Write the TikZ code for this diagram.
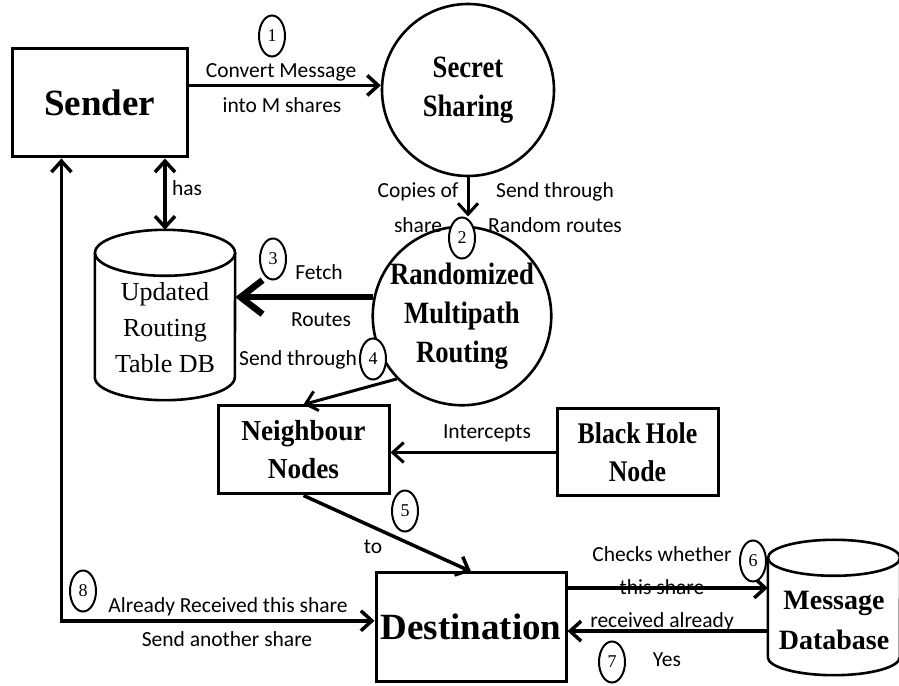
\documentclass[tikz,border=0pt]{standalone}
\usepackage{fontspec}
\setmainfont{Liberation Serif}
\newfontfamily\labfont{Carlito}
\newfontfamily\cserif[FakeStretch=0.86]{Liberation Serif}
\newfontfamily\nserif[FakeStretch=0.94]{Liberation Serif}
\usetikzlibrary{arrows.meta,shapes.geometric,calc}

\tikzset{
  barb/.tip={Straight Barb[length=11pt,width=20pt]},
  bigbarb/.tip={Straight Barb[length=22pt,width=34pt]},
}

\begin{document}
\begin{tikzpicture}[x=1pt,y=1pt,
  box/.style={draw, line width=3pt, rectangle, inner sep=0pt, align=center},
  proc/.style={draw, circle, line width=2.6pt, inner sep=0pt, align=center},
  big/.style={font=\fontsize{37}{40}\selectfont\bfseries},
  mid/.style={font=\cserif\fontsize{31}{39}\selectfont\bfseries},
  dbtext/.style={font=\fontsize{26}{36}\selectfont, align=center, inner sep=0pt},
  lab/.style={font={\labfont\fontsize{21.5}{21.5}\selectfont}, inner sep=0pt},
  num/.style={draw, ellipse, fill=white, line width=2pt, minimum width=26pt,
              minimum height=41pt, inner sep=0pt, font=\fontsize{18}{18}\selectfont},
  flow/.style={line width=3.5pt, -barb},
  both/.style={line width=3.5pt, barb-barb},
  cyl/.style={line width=2.6pt},
]
\useasboundingbox (0,0) rectangle (899,685);
\fill[white] (0,0) rectangle (899,685);

% ---- main blocks ----
\node[box, big, minimum width=175pt, minimum height=108pt] (sender) at (99.5,582) {Sender};
\node[proc, mid, minimum size=172pt] (ss) at (468,595) {Secret\\Sharing};
\node[proc, mid, font=\cserif\fontsize{31}{39}\selectfont\bfseries, minimum size=170pt] (rmr) at (462,369) {Randomized\\Multipath\\Routing};
\node[box, font=\nserif\fontsize{29}{38}\selectfont\bfseries, minimum width=171pt, minimum height=88pt] (nn) at (303.5,235) {Neighbour\\Nodes};
\node[box, mid, font=\cserif\fontsize{30}{38}\selectfont\bfseries, minimum width=161pt, minimum height=87pt] (bh) at (637.5,232.5) {Black\,Hole\\Node};
\node[box, big, minimum width=190pt, minimum height=108pt] (dst) at (471,58) {Destination};

% ---- routing table database (cylinder) ----
\node[rectangle, minimum width=140pt, minimum height=170pt, inner sep=0pt] (rdb) at (165,370) {};
\draw[cyl] ([yshift=-23pt]rdb.north) ellipse [x radius=70, y radius=23];
\draw[cyl] ([yshift=-23pt]rdb.north west) -- ([yshift=23pt]rdb.south west)
  arc[start angle=180, end angle=360, x radius=70, y radius=23]
  -- ([yshift=-23pt]rdb.north east);
\node[dbtext] (rdbt) at (165,357) {Updated\\Routing\\Table DB};

% ---- message database (cylinder) ----
\node[rectangle, minimum width=132pt, minimum height=135pt, inner sep=0pt] (mdb) at (834,77.5) {};
\draw[cyl] ([yshift=-18pt]mdb.north) ellipse [x radius=66, y radius=18];
\draw[cyl] ([yshift=-18pt]mdb.north west) -- ([yshift=18pt]mdb.south west)
  arc[start angle=180, end angle=360, x radius=66, y radius=18]
  -- ([yshift=-18pt]mdb.north east);
\node[dbtext, font=\fontsize{28}{40}\selectfont\bfseries] (mdbt) at (834,65) {Message\\Database};

% ---- connectors ----
\draw[flow] (ss.177 -| sender.east) -- (ss.177);
\draw[both] (sender.south -| rdb.north) -- (rdb.north);
\draw[line width=6.5pt, -bigbarb] (rmr.168) -- (rmr.168 -| rdb.east);
\draw[line width=3pt, -barb] (rmr.224) -- (nn.north);
\draw[line width=3pt, -barb] (bh.west) -- (bh.west -| nn.east);
\draw[line width=3.5pt, -barb] (nn.south) -- (dst.north);

\coordinate (a6) at ($(dst.north east)!0.148!(dst.south east)$);
\coordinate (a7) at ($(dst.north east)!0.537!(dst.south east)$);
\coordinate (a8) at ($(dst.north west)!0.444!(dst.south west)$);
\coordinate (s8) at ($(sender.south west)!0.286!(sender.south east)$);

\draw[flow] (a6) -- (a6 -| mdb.west);
\draw[flow] (a7 -| mdb.west) -- (a7);
\draw[both] (s8) |- (a8);

% ---- step numbers ----
\node[num] (n1) at (272,649) {1};
\node[num] (n2) at (462,447) {2};
\draw[line width=3pt, -barb] (ss.south) -- (ss.south |- n2.north);
\node[num] (n3) at (273,426) {3};
\node[num] (n4) at (373,326) {4};
\node[num] (n5) at (405,174) {5};
\node[num] (n6) at (753,124) {6};
\node[num] (n7) at (612,23) {7};
\node[num] (n8) at (83,94) {8};

% ---- connector labels ----
\node[lab] (l1a) at (281,613) {Convert Message};
\node[lab] (l1b) at (282,580) {into M shares};
\node[lab] (lhas) at (187,497) {has};
\node[lab] (l2a) at (418,493) {Copies of};
\node[lab] (l2b) at (418,460) {share};
\node[lab] (l2c) at (555,493) {Send through};
\node[lab] (l2d) at (555,460) {Random routes};
\node[lab] (l3a) at (319,413) {Fetch};
\node[lab] (l3b) at (321,365) {Routes};
\node[lab] (l4) at (298,325) {Send through};
\node[lab] (lint) at (487,252) {Intercepts};
\node[lab] (l5) at (373,138) {to};
\node[lab] (l6a) at (662,131) {Checks whether};
\node[lab] (l6b) at (662,98) {this share};
\node[lab] (l6c) at (662,63) {received already};
\node[lab] (l7) at (667,25) {Yes};
\node[lab] (l8a) at (228,78) {Already Received this share};
\node[lab] (l8b) at (227,46) {Send another share};
\end{tikzpicture}
\end{document}
